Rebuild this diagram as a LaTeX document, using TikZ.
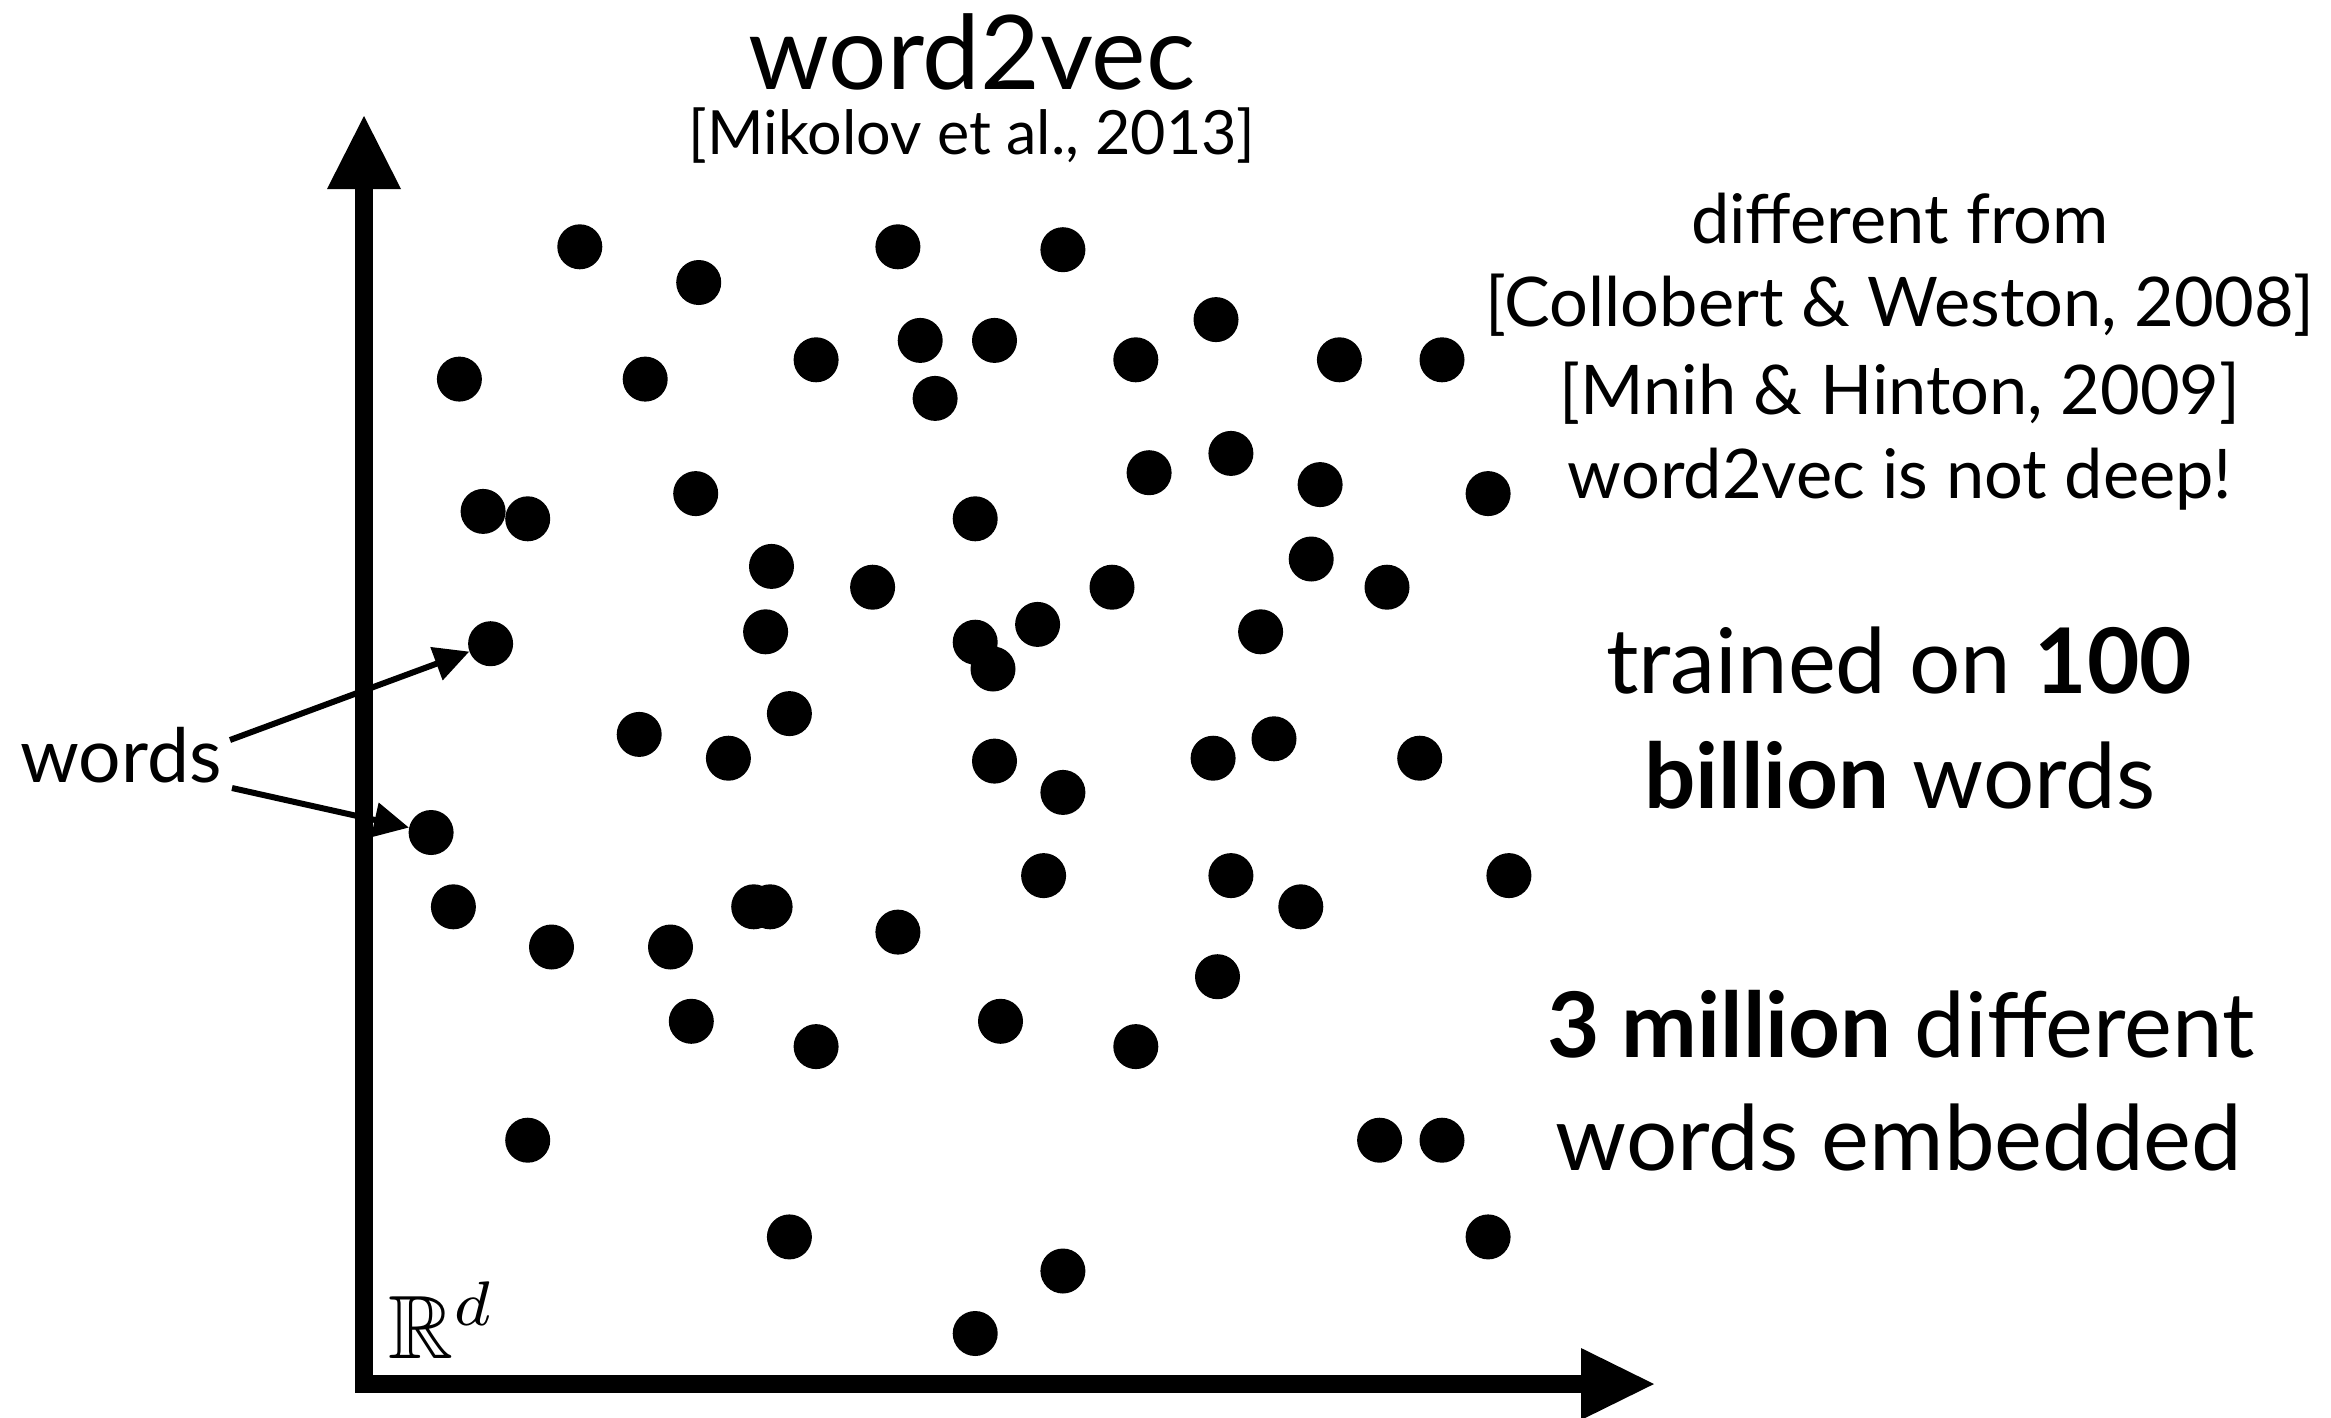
\documentclass[tikz,border=0pt]{standalone}
\usepackage{amssymb}
\usepackage{fontspec}
\setmainfont{Lato}
\usetikzlibrary{arrows.meta}
\begin{document}
\begin{tikzpicture}[x=1pt,y=-1pt,
  dot/.style={circle,fill=black,inner sep=0pt,minimum size=45pt},
  lbl/.style={inner sep=0pt,anchor=base},
  axisline/.style={line width=18pt,line join=miter},
  ptr/.style={line width=6pt,-{Triangle[length=35pt,width=34pt]}},
  titlefont/.style={font=\fontsize{103}{118}\selectfont},
  citefont/.style={font=\fontsize{61}{74}\selectfont},
  listfont/.style={font=\fontsize{68.5}{82}\selectfont},
  bigfont/.style={font=\fontsize{90.5}{108}\selectfont},
  wordsfont/.style={font=\fontsize{75}{90}\selectfont}]
\fill[white] (0,0) rectangle (2331,1417);
\useasboundingbox (0,0) rectangle (2331,1417);

% axes
\coordinate (ytip) at (364,116);
\coordinate (ybase) at (364,189);
\coordinate (origin) at (364,1384);
\coordinate (xbase) at (1581,1384);
\coordinate (xtip) at (1654,1384);
\draw[axisline] (ybase) -- (origin) -- (xbase);
\fill (327,189) -- (ytip) -- (401,189) -- cycle;
\fill (1581,1348) -- (xtip) -- (1581,1420) -- cycle;

% dots
\foreach \px/\py [count=\i] in {
579.8/246.8, 897.9/246.8, 1062.9/249.7, 698.7/282.5, 1216.0/319.6,
459.4/379.1, 645.2/379.1, 816.1/359.8, 920.2/340.4, 994.5/340.4,
1135.8/359.8, 1339.4/359.8, 1442.0/359.8, 935.1/398.4, 1230.9/453.4,
1149.1/472.7, 1320.1/484.6, 1488.1/493.6, 483.1/511.4, 527.7/518.8,
695.7/493.6, 975.2/518.8, 771.5/566.4, 872.6/587.2, 1112.0/587.2,
1311.2/559.0, 1387.0/587.2, 490.6/643.7, 765.6/631.8, 975.2/642.2,
1037.6/624.4, 1260.6/631.8, 993.0/669.0, 789.4/713.6, 639.2/734.4,
728.4/758.2, 994.5/761.1, 1213.1/758.2, 1274.0/738.8, 1419.7/758.2,
1062.9/792.4, 431.1/832.5, 1043.6/875.6, 1230.9/875.6, 1508.9/875.6,
453.4/906.8, 753.7/906.8, 770.1/906.8, 897.9/932.1, 1300.8/906.8,
551.5/947.0, 670.5/947.0, 1217.5/976.7, 691.3/1021.3, 1000.5/1021.3,
816.1/1046.6, 1135.8/1046.6, 527.7/1140.2, 1379.6/1140.2, 1442.0/1140.2,
789.4/1236.9, 1488.1/1236.9, 1062.9/1271.0, 975.2/1333.5}
  \node[dot] (d\i) at (\px,\py) {};

% titles
\node[lbl,titlefont] (title) at (972,89) {word2vec};
\node[lbl,citefont] (cite) at (972,154) {[Mikolov et al., 2013]};

% right notes
\node[lbl,listfont] (n1) at (1900,243) {different from};
\node[lbl,listfont] (n2) at (1900,326) {[Collobert \& Weston, 2008]};
\node[lbl,listfont] (n3) at (1900,414) {[Mnih \& Hinton, 2009]};
\node[lbl,listfont] (n4) at (1900,498) {word2vec is not deep!};
\node[lbl,bigfont] (b1) at (1899,693) {trained on \textbf{100}};
\node[lbl,bigfont] (b2) at (1900,808) {\textbf{billion} words};
\node[lbl,bigfont] (b3) at (1901,1057) {\textbf{3 million} different};
\node[lbl,bigfont] (b4) at (1899,1170) {words embedded};

% words label and pointers
\node[lbl,wordsfont] (words) at (121,782) {words};
\coordinate (w1) at (230,740);
\coordinate (w2) at (232,788);
\draw[ptr] (w1) -- (d28);
\draw[ptr] (w2) -- (d42);

% space label
\node[inner sep=0pt,anchor=base west,scale=9] (space) at (387,1358) {$\mathbb{R}^d$};
\end{tikzpicture}
\end{document}
